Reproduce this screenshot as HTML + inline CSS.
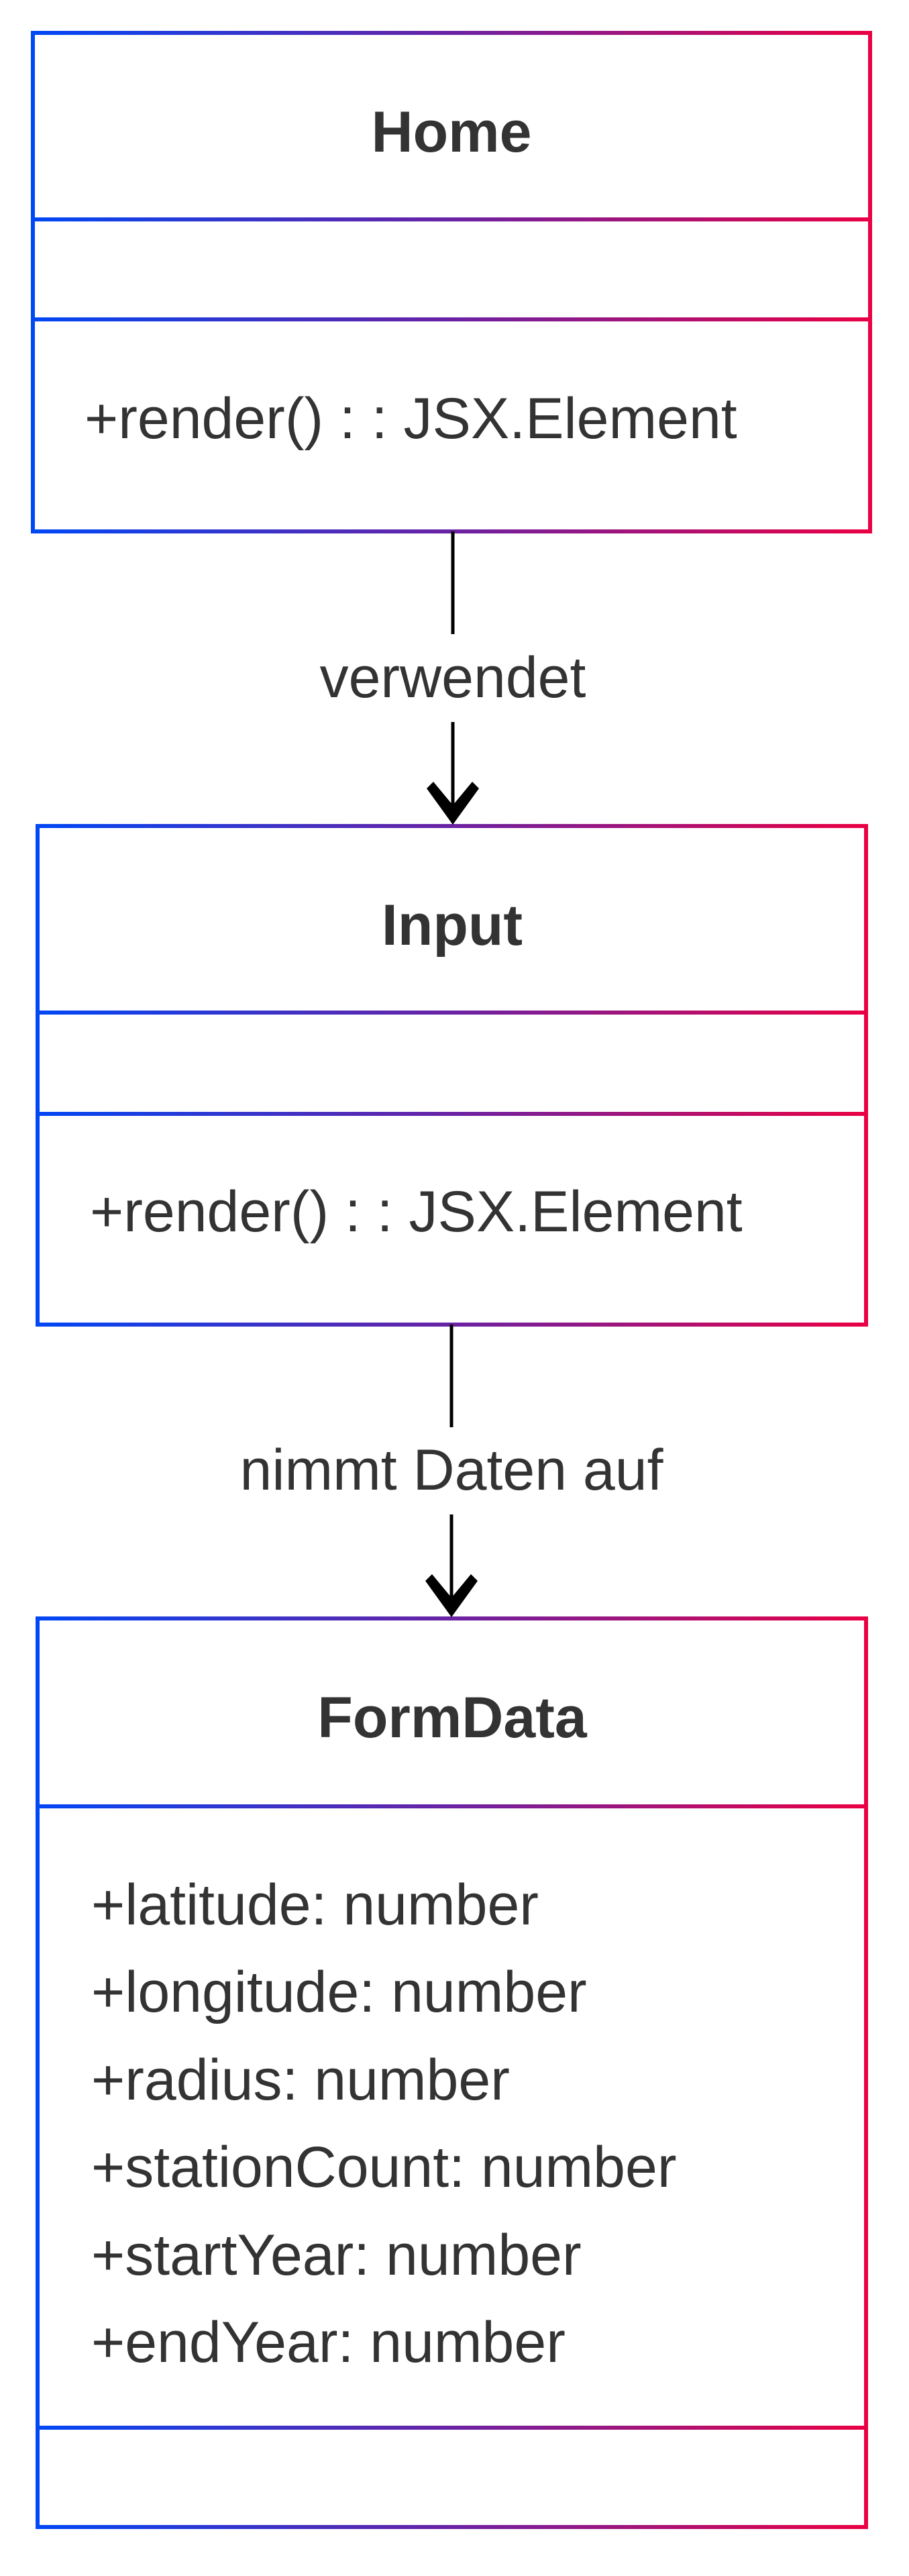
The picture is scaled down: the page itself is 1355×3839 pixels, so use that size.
<!DOCTYPE html>
<html><head><meta charset="utf-8"><style>
html,body{margin:0;padding:0;background:#fff;}
svg{display:block;}
text{font-family:"Liberation Sans",Arial,sans-serif;fill:#333;font-size:86px;}
.t{font-weight:bold;text-anchor:middle;}
.l{text-anchor:middle;}
</style></head><body>
<svg width="1355" height="3839" viewBox="0 0 1355 3839" xmlns="http://www.w3.org/2000/svg">
<defs>
<linearGradient id="g1" gradientUnits="userSpaceOnUse" x1="49" y1="0" x2="1297" y2="0"><stop offset="0" stop-color="#0047f5"/><stop offset="0.5" stop-color="#6a22a4"/><stop offset="1" stop-color="#ea0044"/></linearGradient>
<linearGradient id="g2" gradientUnits="userSpaceOnUse" x1="56" y1="0" x2="1291" y2="0"><stop offset="0" stop-color="#0047f5"/><stop offset="0.5" stop-color="#6a22a4"/><stop offset="1" stop-color="#ea0044"/></linearGradient>
</defs>
<g fill="none" stroke="url(#g1)" stroke-width="6">
<rect x="49" y="49" width="1248" height="743"/>
<line x1="49" y1="327" x2="1297" y2="327"/>
<line x1="49" y1="476" x2="1297" y2="476"/>
</g>
<g fill="none" stroke="url(#g2)" stroke-width="6">
<rect x="56" y="1231" width="1235" height="743"/>
<line x1="56" y1="1509" x2="1291" y2="1509"/>
<line x1="56" y1="1660" x2="1291" y2="1660"/>
<rect x="56" y="2412" width="1235" height="1354"/>
<line x1="56" y1="2692" x2="1291" y2="2692"/>
<line x1="56" y1="3618" x2="1291" y2="3618"/>
</g>
<g stroke="#000" stroke-width="5" fill="none">
<line x1="675" y1="792" x2="675" y2="945"/>
<line x1="675" y1="1076" x2="675" y2="1215"/>
<line x1="673" y1="1974" x2="673" y2="2127"/>
<line x1="673" y1="2257" x2="673" y2="2396"/>
</g>
<polygon points="636,1175 646,1165 675,1200 704,1165 714,1175 675,1229" fill="#000"/>
<polygon points="634,2356 644,2346 673,2381 702,2346 712,2356 673,2410" fill="#000"/>
<text class="t" x="673" y="226">Home</text>
<text x="126" y="653">+render() : : JSX.Element</text>
<text class="l" x="675" y="1039">verwendet</text>
<text class="t" x="674" y="1408">Input</text>
<text x="134" y="1835">+render() : : JSX.Element</text>
<text class="l" x="673" y="2220">nimmt Daten auf</text>
<text class="t" x="674" y="2589">FormData</text>
<text x="136" y="2868">+latitude: number</text>
<text x="136" y="2998">+longitude: number</text>
<text x="136" y="3129">+radius: number</text>
<text x="136" y="3259">+stationCount: number</text>
<text x="136" y="3390">+startYear: number</text>
<text x="136" y="3520">+endYear: number</text>
</svg>
</body></html>
